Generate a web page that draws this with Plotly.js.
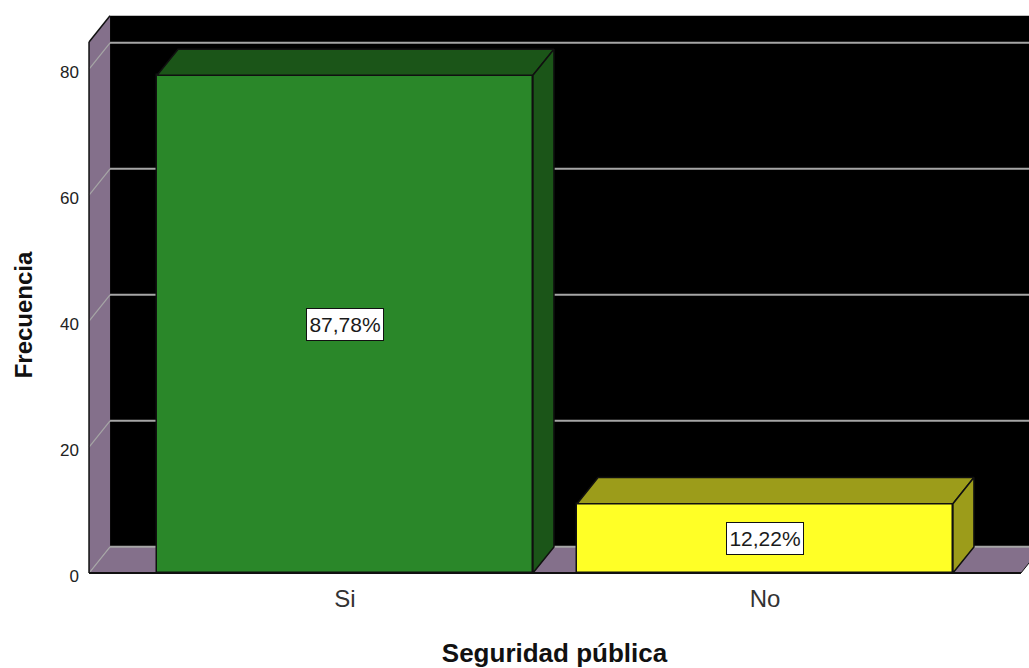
<!DOCTYPE html>
<html>
<head>
<meta charset="utf-8">
<script src="https://cdn.plot.ly/plotly-3.0.1.min.js"></script>
<style>html,body{margin:0;padding:0;background:#fff}#chart{width:1029px;height:668px}</style>
</head>
<body>
<div id="chart"></div>
<script>
// Survey answers on public safety
const categories = ['Si', 'No'];
const frequencies = [79, 11];
const shareLabels = ['87,78%', '12,22%'];
const barColors = ['#2a8729', '#ffff26'];
const barTopColors = ['#1b5518', '#9c9c1a'];
const barSideColors = ['#1b5518', '#9c9c1a'];
const yTicks = [0, 20, 40, 60, 80];

// Pseudo-3D box settings, in axis units
const depthX = 0.05;
const depthY = 4.15;
const barWidth = 0.895;
const floorLeft = -0.6095;
const floorRight = 1.6095;
const wallTop = 84.3;

const wallColor = '#84708b';
const gridColor = '#a6a6a6';
const edgeColor = '#101010';

function polygonPath(points) {
  return 'M' + points.map(p => p[0] + ',' + p[1]).join('L') + 'Z';
}

function dataShape(props) {
  return Object.assign({type: 'path', xref: 'x', yref: 'y', layer: 'below'}, props);
}

function segment(x0, y0, x1, y1, color, width) {
  return {type: 'line', xref: 'x', yref: 'y', layer: 'below',
          x0, y0, x1, y1, line: {color, width}};
}

const shapes = [
  // back wall
  dataShape({
    path: polygonPath([[floorLeft + depthX, depthY], [floorRight + depthX, depthY],
                       [floorRight + depthX, wallTop + depthY], [floorLeft + depthX, wallTop + depthY]]),
    fillcolor: '#000000', line: {width: 0}
  }),
  // left wall
  dataShape({
    path: polygonPath([[floorLeft, 0], [floorLeft + depthX, depthY],
                       [floorLeft + depthX, wallTop + depthY], [floorLeft, wallTop]]),
    fillcolor: wallColor, line: {width: 0}
  }),
  // floor
  dataShape({
    path: polygonPath([[floorLeft, 0], [floorRight, 0],
                       [floorRight + depthX, depthY], [floorLeft + depthX, depthY]]),
    fillcolor: wallColor, line: {width: 0}
  })
];

// gridlines run along the back wall and slant down the left wall
yTicks.forEach(v => {
  shapes.push(segment(floorLeft + depthX, v + depthY, floorRight + depthX, v + depthY, gridColor, 2));
  shapes.push(segment(floorLeft, v, floorLeft + depthX, v + depthY, gridColor, 1.2));
});

// outer edges of the box
shapes.push(segment(floorLeft, 0, floorRight, 0, edgeColor, 2));
shapes.push(segment(floorRight, 0, floorRight + depthX, depthY, edgeColor, 1));
shapes.push(segment(floorLeft, 0, floorLeft, wallTop, edgeColor, 1.5));
shapes.push(segment(floorLeft, wallTop, floorLeft + depthX, wallTop + depthY, edgeColor, 1.5));

const indices = categories.map((_, i) => i);

const traces = [{
  type: 'bar',
  x: indices,
  y: frequencies,
  width: barWidth,
  marker: {color: barColors, line: {color: edgeColor, width: 1.5}},
  hoverinfo: 'skip',
  showlegend: false
}];

// top and side faces of each bar
indices.forEach(i => {
  const l = i - barWidth / 2;
  const r = i + barWidth / 2;
  const v = frequencies[i];
  traces.push({
    type: 'scatter', mode: 'lines', fill: 'toself', hoverinfo: 'skip', showlegend: false,
    x: [l, r, r + depthX, l + depthX, l],
    y: [v, v, v + depthY, v + depthY, v],
    fillcolor: barTopColors[i],
    line: {color: edgeColor, width: 1.5}
  });
  traces.push({
    type: 'scatter', mode: 'lines', fill: 'toself', hoverinfo: 'skip', showlegend: false,
    x: [r, r + depthX, r + depthX, r, r],
    y: [0, depthY, v + depthY, v, 0],
    fillcolor: barSideColors[i],
    line: {color: edgeColor, width: 1.5}
  });
});

const annotations = indices.map(i => ({
  x: i,
  y: frequencies[i] / 2,
  xref: 'x',
  yref: 'y',
  text: shareLabels[i],
  showarrow: false,
  width: 76,
  height: 31,
  align: 'center',
  valign: 'middle',
  bgcolor: '#ffffff',
  bordercolor: '#111111',
  borderwidth: 1,
  borderpad: 0,
  font: {family: 'Liberation Sans, Arial, sans-serif', size: 21, color: '#1a1a1a'}
}));

const layout = {
  width: 1029,
  height: 668,
  margin: {l: 80, r: 0, t: 12, b: 50},
  paper_bgcolor: '#ffffff',
  plot_bgcolor: '#ffffff',
  showlegend: false,
  bargap: 0,
  font: {family: 'Liberation Sans, Arial, sans-serif', color: '#222222'},
  xaxis: {
    range: [-0.631, 1.6286],
    anchor: 'free',
    position: 0.066,
    tickmode: 'array',
    tickvals: indices,
    ticktext: categories,
    ticks: '',
    showgrid: false,
    zeroline: false,
    showline: false,
    ticklabelstandoff: 4,
    tickfont: {size: 24, color: '#333333'},
    title: {text: '<b>Seguridad pública</b>', font: {size: 26, color: '#111111'}, standoff: 34},
    automargin: false
  },
  yaxis: {
    range: [-7.14, 89.05],
    tickmode: 'array',
    tickvals: yTicks,
    ticktext: yTicks.map(String),
    ticks: '',
    showgrid: false,
    zeroline: false,
    showline: false,
    ticklabelstandoff: 0,
    ticklabelshift: 3,
    tickfont: {size: 17, color: '#222222'},
    title: {text: '<b>Frecuencia</b>', font: {size: 24, color: '#111111'}, standoff: 20},
    automargin: false
  },
  shapes,
  annotations
};

Plotly.newPlot('chart', traces, layout, {displayModeBar: false, responsive: false});
</script>
</body>
</html>
